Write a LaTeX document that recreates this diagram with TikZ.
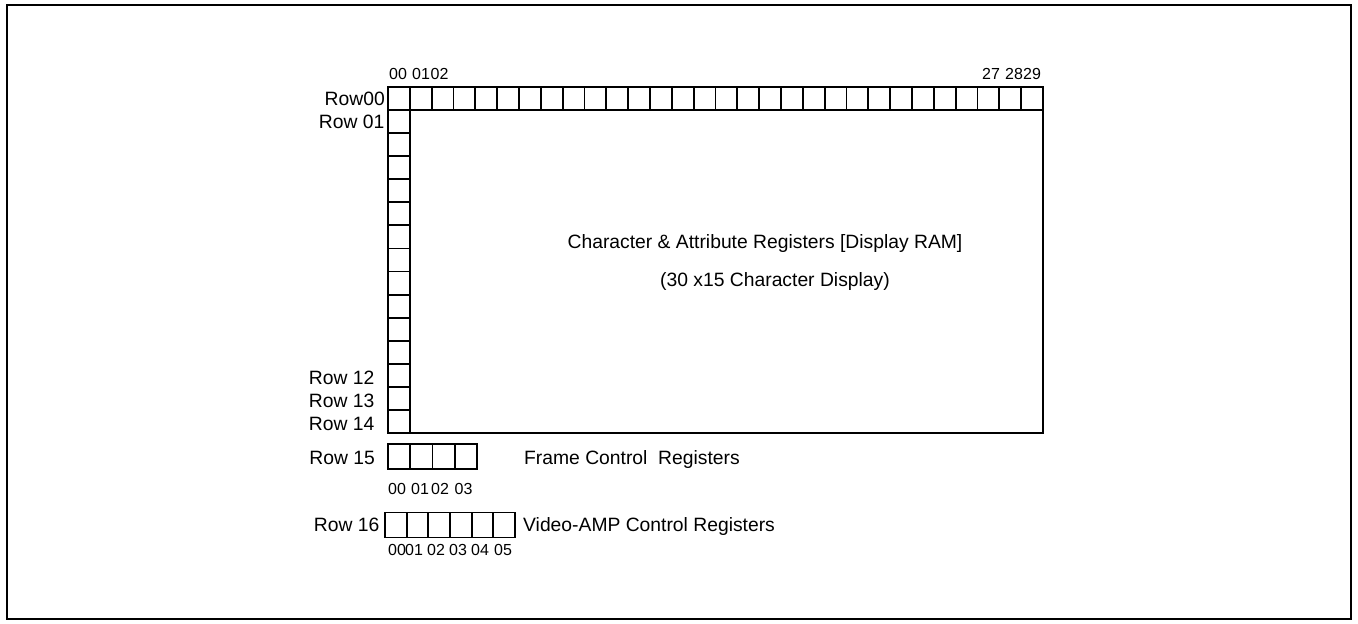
\documentclass[tikz,border=0pt]{standalone}
\usepackage{fontspec}
\setmainfont{Liberation Sans}
\begin{document}
\begin{tikzpicture}[x=1pt,y=-1pt,
  cell/.style={draw=black,line width=1.8pt},
  frame/.style={draw=black,line width=2.2pt},
  lbl/.style={inner sep=0pt,font=\fontsize{19.3}{22}\selectfont},
  num/.style={inner sep=0pt,font=\fontsize{16}{18}\selectfont}]
\useasboundingbox (0,0) rectangle (1358,624);
\draw[frame] (7,5) rectangle (1351,619);
% main display area
\def\gx{388}\def\gy{86.7}\def\gr{1043}\def\gb{433.3}
\pgfmathsetmacro{\cw}{(\gr-\gx)/30}
\pgfmathsetmacro{\ch}{(\gb-\gy)/15}
\draw[cell] (\gx,\gy) rectangle (\gr,\gb);
\draw[cell] (\gx,\gy+\ch) -- (\gr,\gy+\ch);
\foreach \i in {1,...,29} \draw[cell] (\gx+\i*\cw,\gy) -- (\gx+\i*\cw,\gy+\ch);
\draw[cell] (\gx+\cw,\gy) -- (\gx+\cw,\gb);
\foreach \j in {2,...,14} \draw[cell] (\gx,\gy+\j*\ch) -- (\gx+\cw,\gy+\j*\ch);
% column numbers (top)
\node[num,anchor=base west] (c00) at (389,79) {00};
\node[num,anchor=base west] (c01) at (412,79) {01};
\node[num,anchor=base west] (c02) at (430.5,79) {02};
\node[num,anchor=base west] (c27) at (982,79) {27};
\node[num,anchor=base west] (c28) at (1005,79) {28};
\node[num,anchor=base west] (c29) at (1023,79) {29};
% row labels
\node[lbl,anchor=base east] (r00) at (385,105) {Row00};
\node[lbl,anchor=base east] (r01) at (384.5,128) {Row 01};
\node[lbl,anchor=base east] (r12) at (374.5,384) {Row 12};
\node[lbl,anchor=base east] (r13) at (374.5,407) {Row 13};
\node[lbl,anchor=base east] (r14) at (374.5,430) {Row 14};
% center texts
\node[lbl,anchor=base] (t1) at (765,248) {Character \& Attribute Registers [Display RAM]};
\node[lbl,anchor=base] (t2) at (775,286) {(30 x15 Character Display)};
% Row 15
\foreach \i in {0,...,3} \draw[cell] (388+\i*22.2,444) rectangle (388+\i*22.2+22.2,469);
\node[lbl,anchor=base east] (r15) at (375,464) {Row 15};
\node[lbl,anchor=base west] (fc) at (524,464) {Frame Control\ \ Registers};
\node[num,anchor=base west] (f00) at (388,494) {00};
\node[num,anchor=base west] (f01) at (411,494) {01};
\node[num,anchor=base west] (f02) at (431,494) {02};
\node[num,anchor=base west] (f03) at (454.5,494) {03};
% Row 16
\foreach \i in {0,...,5} \draw[cell] (385+\i*21.67,512.5) rectangle (385+\i*21.67+21.67,537.5);
\node[lbl,anchor=base east] (r16) at (379.5,531) {Row 16};
\node[lbl,anchor=base west] (va) at (523,531) {Video-AMP Control Registers};
\node[num,anchor=base west] (v00) at (388,555) {00};
\node[num,anchor=base west] (v01) at (405,555) {01};
\node[num,anchor=base west] (v02) at (427,555) {02};
\node[num,anchor=base west] (v03) at (449,555) {03};
\node[num,anchor=base west] (v04) at (471,555) {04};
\node[num,anchor=base west] (v05) at (494,555) {05};
\end{tikzpicture}
\end{document}
